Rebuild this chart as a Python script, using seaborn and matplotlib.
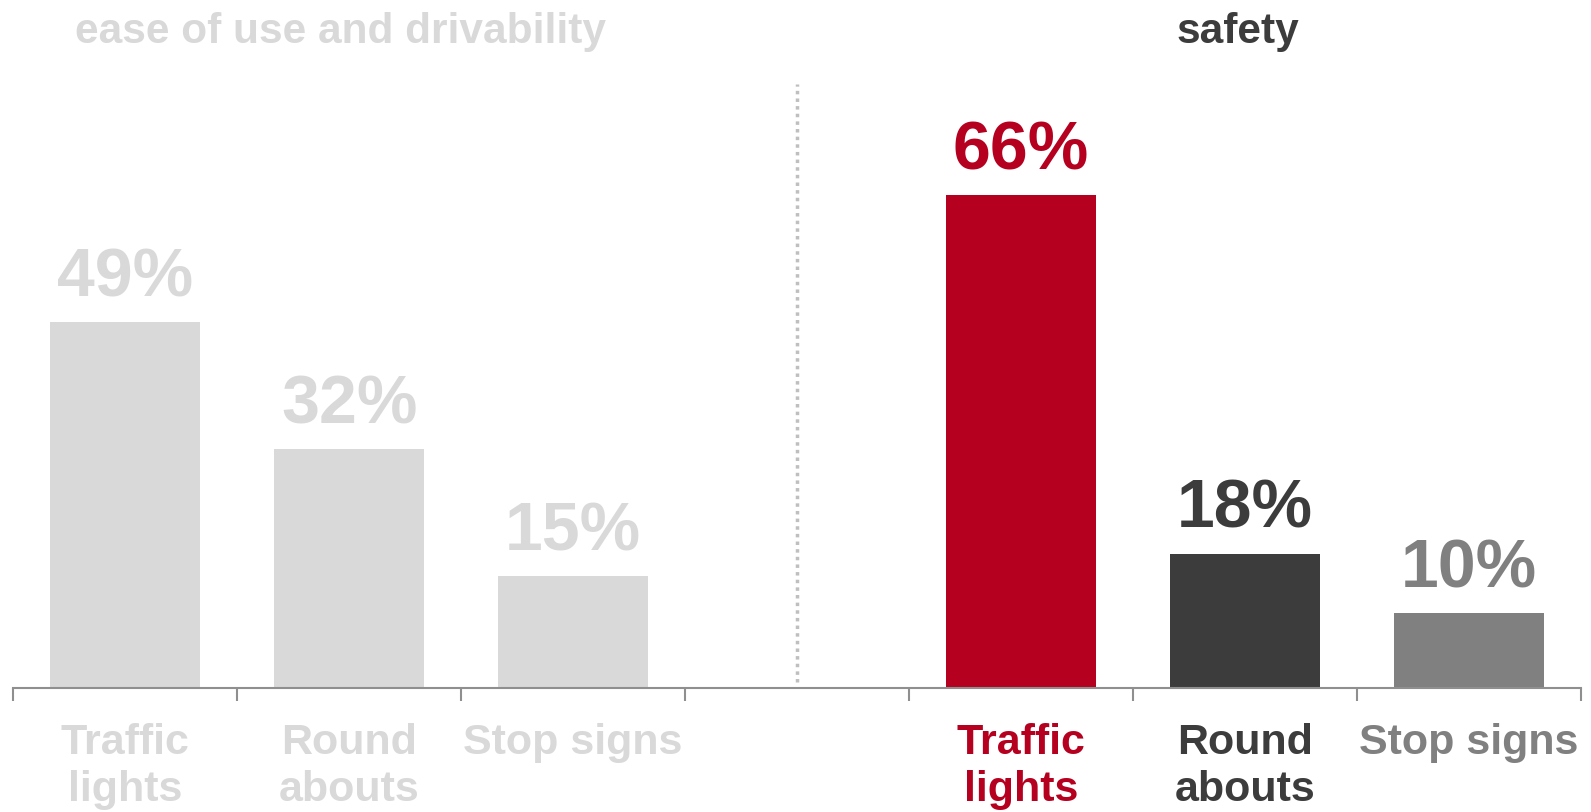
import matplotlib
matplotlib.use("Agg")
import matplotlib.pyplot as plt
import matplotlib.transforms as mtransforms
import seaborn as sns
import pandas as pd

# Survey results: share of respondents preferring each intersection type
groups = ["ease of use and drivability", "safety"]
categories = ["Traffic\nlights", "Round\nabouts", "Stop signs"]
ease_values = [49, 32, 15]
safety_values = [66, 18, 10]
value_labels_ease = ["49%", "32%", "15%"]
value_labels_safety = ["66%", "18%", "10%"]

ease_colors = ["#d9d9d9", "#d9d9d9", "#d9d9d9"]
safety_colors = ["#b5001f", "#3c3c3c", "#808080"]
title_colors = ["#d9d9d9", "#3c3c3c"]

# One slot per bar plus an empty separator slot between the two groups
slots = ["e0", "e1", "e2", "gap", "s0", "s1", "s2"]
bar_slots = ["e0", "e1", "e2", "s0", "s1", "s2"]
df = pd.DataFrame({
    "slot": bar_slots,
    "value": ease_values + safety_values,
    "label": value_labels_ease + value_labels_safety,
})
palette = dict(zip(bar_slots, ease_colors + safety_colors))
tick_labels = categories + [""] + categories
tick_colors = ease_colors + ["#ffffff"] + safety_colors

sns.set_theme(style="white")
plt.rcParams["font.family"] = ["Liberation Sans", "DejaVu Sans"]
plt.rcParams["font.weight"] = "bold"

fig = plt.figure(figsize=(15.91, 8.1201), dpi=100)
ax = fig.add_axes([13.2 / 1591, 124 / 812, (1581 - 13.2) / 1591, 688 / 812])

sns.barplot(data=df, x="slot", y="value", hue="slot", order=slots,
            palette=palette, width=0.67, legend=False, ax=ax,
            saturation=1, linewidth=0)

ax.set_xlim(-0.5, 6.5)
ax.set_ylim(0, 92.2)
ax.set_xlabel("")
ax.set_ylabel("")
ax.set_yticks([])

for s in ["top", "right", "left"]:
    ax.spines[s].set_visible(False)
ax.spines["bottom"].set_color("#8f8f8f")
ax.spines["bottom"].set_linewidth(1.5)

# Category labels centred under the bars, tick marks on slot boundaries
ax.set_xticks(range(len(slots)))
ax.set_xticklabels(tick_labels, fontsize=31, fontweight="bold", linespacing=1.22)
for lbl, c in zip(ax.get_xticklabels(), tick_colors):
    lbl.set_color(c)
ax.tick_params(axis="x", which="major", length=0, pad=25)
ax.set_xticks([i - 0.5 for i in range(len(slots) + 1)], minor=True)
ax.tick_params(axis="x", which="minor", length=9, width=1.5, color="#8f8f8f",
               direction="out", bottom=True)

# Value labels above each bar
for _, row in df.iterrows():
    x = slots.index(row["slot"])
    ax.annotate(row["label"], xy=(x, row["value"]), xytext=(0, 18.5),
                textcoords="offset points", ha="center", va="baseline",
                fontsize=49, fontweight="bold", color=palette[row["slot"]])

# Dotted separator between the groups
ax.plot([3, 3], [0.8, 81], color="#bfbfbf", linewidth=2.5,
        linestyle=(0, (1, 1.2)), solid_capstyle="butt")

# Group titles across the top
trans = mtransforms.blended_transform_factory(ax.transData, fig.transFigure)
for gx, name, c in zip([0.96, 4.97], groups, title_colors):
    ax.text(gx, 1 - 32 / 812, name, transform=trans, ha="center", va="center",
            fontsize=30.5, fontweight="bold", color=c)

fig.savefig("out.png", dpi=100)
